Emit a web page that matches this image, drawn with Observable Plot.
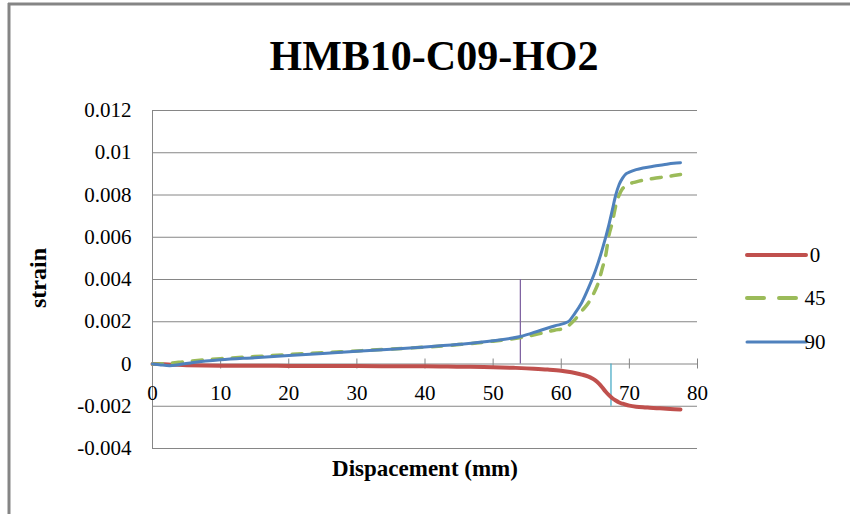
<!DOCTYPE html>
<html><head><meta charset="utf-8">
<script src="https://cdn.jsdelivr.net/npm/d3@7"></script>
<script src="https://cdn.jsdelivr.net/npm/@observablehq/plot@0.6"></script>
<style>
body{margin:0;background:#fff}
#chart{position:relative;width:850px;height:514px;overflow:hidden}
#chart svg{display:block}
#chart svg text{font-family:'Liberation Serif','Times New Roman',serif}
</style>
</head><body><div id="chart"></div>
<script>
const chartTitle = "HMB10-C09-HO2";
const xLabel = "Dispacement (mm)";
const yLabel = "strain";
const seriesNames = ["0", "45", "90"];
const seriesColors = ["#C0504D", "#9BBB59", "#4F81BD"];
const xTicks = [0, 10, 20, 30, 40, 50, 60, 70, 80];
const yTicks = [-0.004, -0.002, 0, 0.002, 0.004, 0.006, 0.008, 0.01, 0.012];

// series "0"
const x0 = [0, 1, 3, 5, 10, 15, 20, 25, 30, 35, 40, 45, 50, 53, 56, 58, 60, 61, 62, 63, 64, 64.5, 65, 65.5, 66, 66.5, 67, 67.5, 68, 68.5, 69, 69.5, 70, 71, 72, 73, 74, 75, 76, 77.5];
const y0 = [0, 0, -0.00003, -0.00006, -0.00008, -0.00008, -0.00009, -0.0001, -0.0001, -0.00011, -0.00011, -0.00013, -0.00015, -0.00018, -0.00022, -0.00026, -0.00032, -0.00037, -0.00043, -0.0005, -0.0006, -0.00068, -0.00078, -0.00092, -0.0011, -0.0013, -0.00147, -0.00162, -0.00173, -0.00182, -0.00188, -0.00193, -0.00197, -0.00202, -0.00205, -0.00207, -0.00209, -0.00211, -0.00213, -0.00215];

// series "45"
const x45 = [0, 2, 5, 10, 15, 20, 25, 30, 35, 40, 45, 50, 54, 57, 59, 60.5, 62, 63, 64, 65, 65.5, 66, 66.5, 67, 67.5, 68, 68.5, 69, 69.5, 70, 71, 72, 73.5, 75, 76.5, 77.5];
const y45 = [0, 0.00002, 0.00012, 0.00025, 0.00035, 0.00045, 0.00054, 0.00062, 0.00071, 0.0008, 0.00092, 0.00108, 0.00125, 0.00145, 0.0016, 0.0017, 0.0021, 0.0025, 0.0029, 0.0035, 0.0039, 0.0045, 0.0051, 0.0061, 0.0067, 0.0075, 0.008, 0.0083, 0.0084, 0.00852, 0.00862, 0.0087, 0.00878, 0.00885, 0.00892, 0.00897];

// series "90"
const x90 = [0, 1, 2.5, 4, 6, 10, 15, 20, 25, 30, 35, 40, 45, 50, 54, 57, 59, 61, 62, 63, 64, 65, 66, 67, 67.5, 68, 68.5, 69, 69.5, 70, 71, 72, 73.5, 75, 76.5, 77.5];
const y90 = [0, -0.00003, -0.00008, -0.00002, 0.00007, 0.0002, 0.0003, 0.0004, 0.0005, 0.0006, 0.0007, 0.0008, 0.00093, 0.0011, 0.0013, 0.0016, 0.0018, 0.002, 0.0024, 0.0029, 0.0036, 0.0044, 0.0054, 0.0066, 0.0073, 0.008, 0.0085, 0.0088, 0.009, 0.00908, 0.0092, 0.00928, 0.00936, 0.00943, 0.0095, 0.00953];

// vertical marker lines
const markerX = [54, 67.3];
const markerTop = [0.004, 0];
const markerBottom = [0, -0.002];
const markerColors = ["#8064A2", "#4BACC6"];

const seriesX = [x0, x45, x90];
const seriesY = [y0, y45, y90];
const seriesData = seriesNames.map((name, s) => seriesX[s].map((x, i) => ({x, y: seriesY[s][i], name})));
const markers = markerX.map((x, i) => ({x, y1: markerBottom[i], y2: markerTop[i], color: markerColors[i]}));

const grid = "#868686";
const W = 850, H = 514;
const ML = 152, MR = 153, MT = 110, MB = 66;
const font = "'Liberation Serif', 'Times New Roman', serif";

const plot = Plot.plot({
  width: W, height: H,
  marginLeft: ML, marginRight: MR, marginTop: MT, marginBottom: MB,
  x: {domain: [0, 80], axis: null},
  y: {domain: [-0.004, 0.012], axis: null},
  style: {fontFamily: font, color: "#000", background: "transparent", overflow: "visible"},
  marks: [
    Plot.gridY(yTicks, {stroke: grid, strokeOpacity: 1, strokeWidth: 1}),
    Plot.ruleX([0], {stroke: grid, strokeWidth: 1}),
    Plot.ruleX(xTicks, {x: d => d, y1: 0, y2: 0, insetTop: 5, insetBottom: 5, stroke: grid, strokeWidth: 1}),
    Plot.text(yTicks, {frameAnchor: "left", y: d => d, dx: -21, textAnchor: "end",
      text: d => d === 0 ? "0" : String(d), fontSize: 21, fontFamily: font, fill: "#000"}),
    Plot.text(xTicks, {x: d => d, y: 0, dy: 29, text: d => String(d), fontSize: 21, fontFamily: font, fill: "#000"}),
    Plot.ruleX(markers, {x: "x", y1: "y1", y2: "y2", stroke: "color", strokeWidth: 1.3}),
    Plot.line(seriesData[0], {x: "x", y: "y", stroke: seriesColors[0], strokeWidth: 4, strokeLinecap: "round", strokeLinejoin: "round", curve: "monotone-x"}),
    Plot.line(seriesData[1], {x: "x", y: "y", stroke: seriesColors[1], strokeWidth: 3.5, strokeDasharray: "10,10", strokeLinecap: "round", strokeLinejoin: "round", curve: "monotone-x"}),
    Plot.line(seriesData[2], {x: "x", y: "y", stroke: seriesColors[2], strokeWidth: 3, strokeLinecap: "round", strokeLinejoin: "round", curve: "monotone-x"})
  ]
});

const svg = d3.select(plot);

// outer border (top and left)
svg.append("line").attr("x1", 8).attr("x2", W).attr("y1", 4).attr("y2", 4).attr("stroke", "#858585").attr("stroke-width", 3);
svg.append("line").attr("x1", 9).attr("x2", 9).attr("y1", 3).attr("y2", H).attr("stroke", "#858585").attr("stroke-width", 3);

// title
svg.append("text").attr("x", 434).attr("y", 70).attr("text-anchor", "middle")
  .attr("font-family", font).attr("font-weight", "bold").attr("font-size", 42).attr("fill", "#000").text(chartTitle);

// axis titles
svg.append("text").attr("x", 425).attr("y", 476).attr("text-anchor", "middle")
  .attr("font-family", font).attr("font-weight", "bold").attr("font-size", 23).attr("fill", "#000").text(xLabel);
svg.append("text").attr("transform", "translate(38,278) rotate(-90)").attr("text-anchor", "middle")
  .attr("dominant-baseline", "central")
  .attr("font-family", font).attr("font-weight", "bold").attr("font-size", 24).attr("fill", "#000").text(yLabel);

// legend
const legY = [255, 298, 342];
const dashes = [null, "17,15", null];
seriesNames.forEach((name, i) => {
  const l = svg.append("line").attr("x1", 747).attr("x2", 806).attr("y1", legY[i]).attr("y2", legY[i])
    .attr("stroke", seriesColors[i]).attr("stroke-width", i === 2 ? 3 : 4).attr("stroke-linecap", "round");
  if (dashes[i]) l.attr("stroke-dasharray", dashes[i]);
  svg.append("text").attr("x", 815).attr("y", legY[i]).attr("dominant-baseline", "central")
    .attr("font-family", font).attr("font-size", 21).attr("fill", "#000").text(name);
});

document.getElementById("chart").appendChild(plot);
</script>
</body></html>
